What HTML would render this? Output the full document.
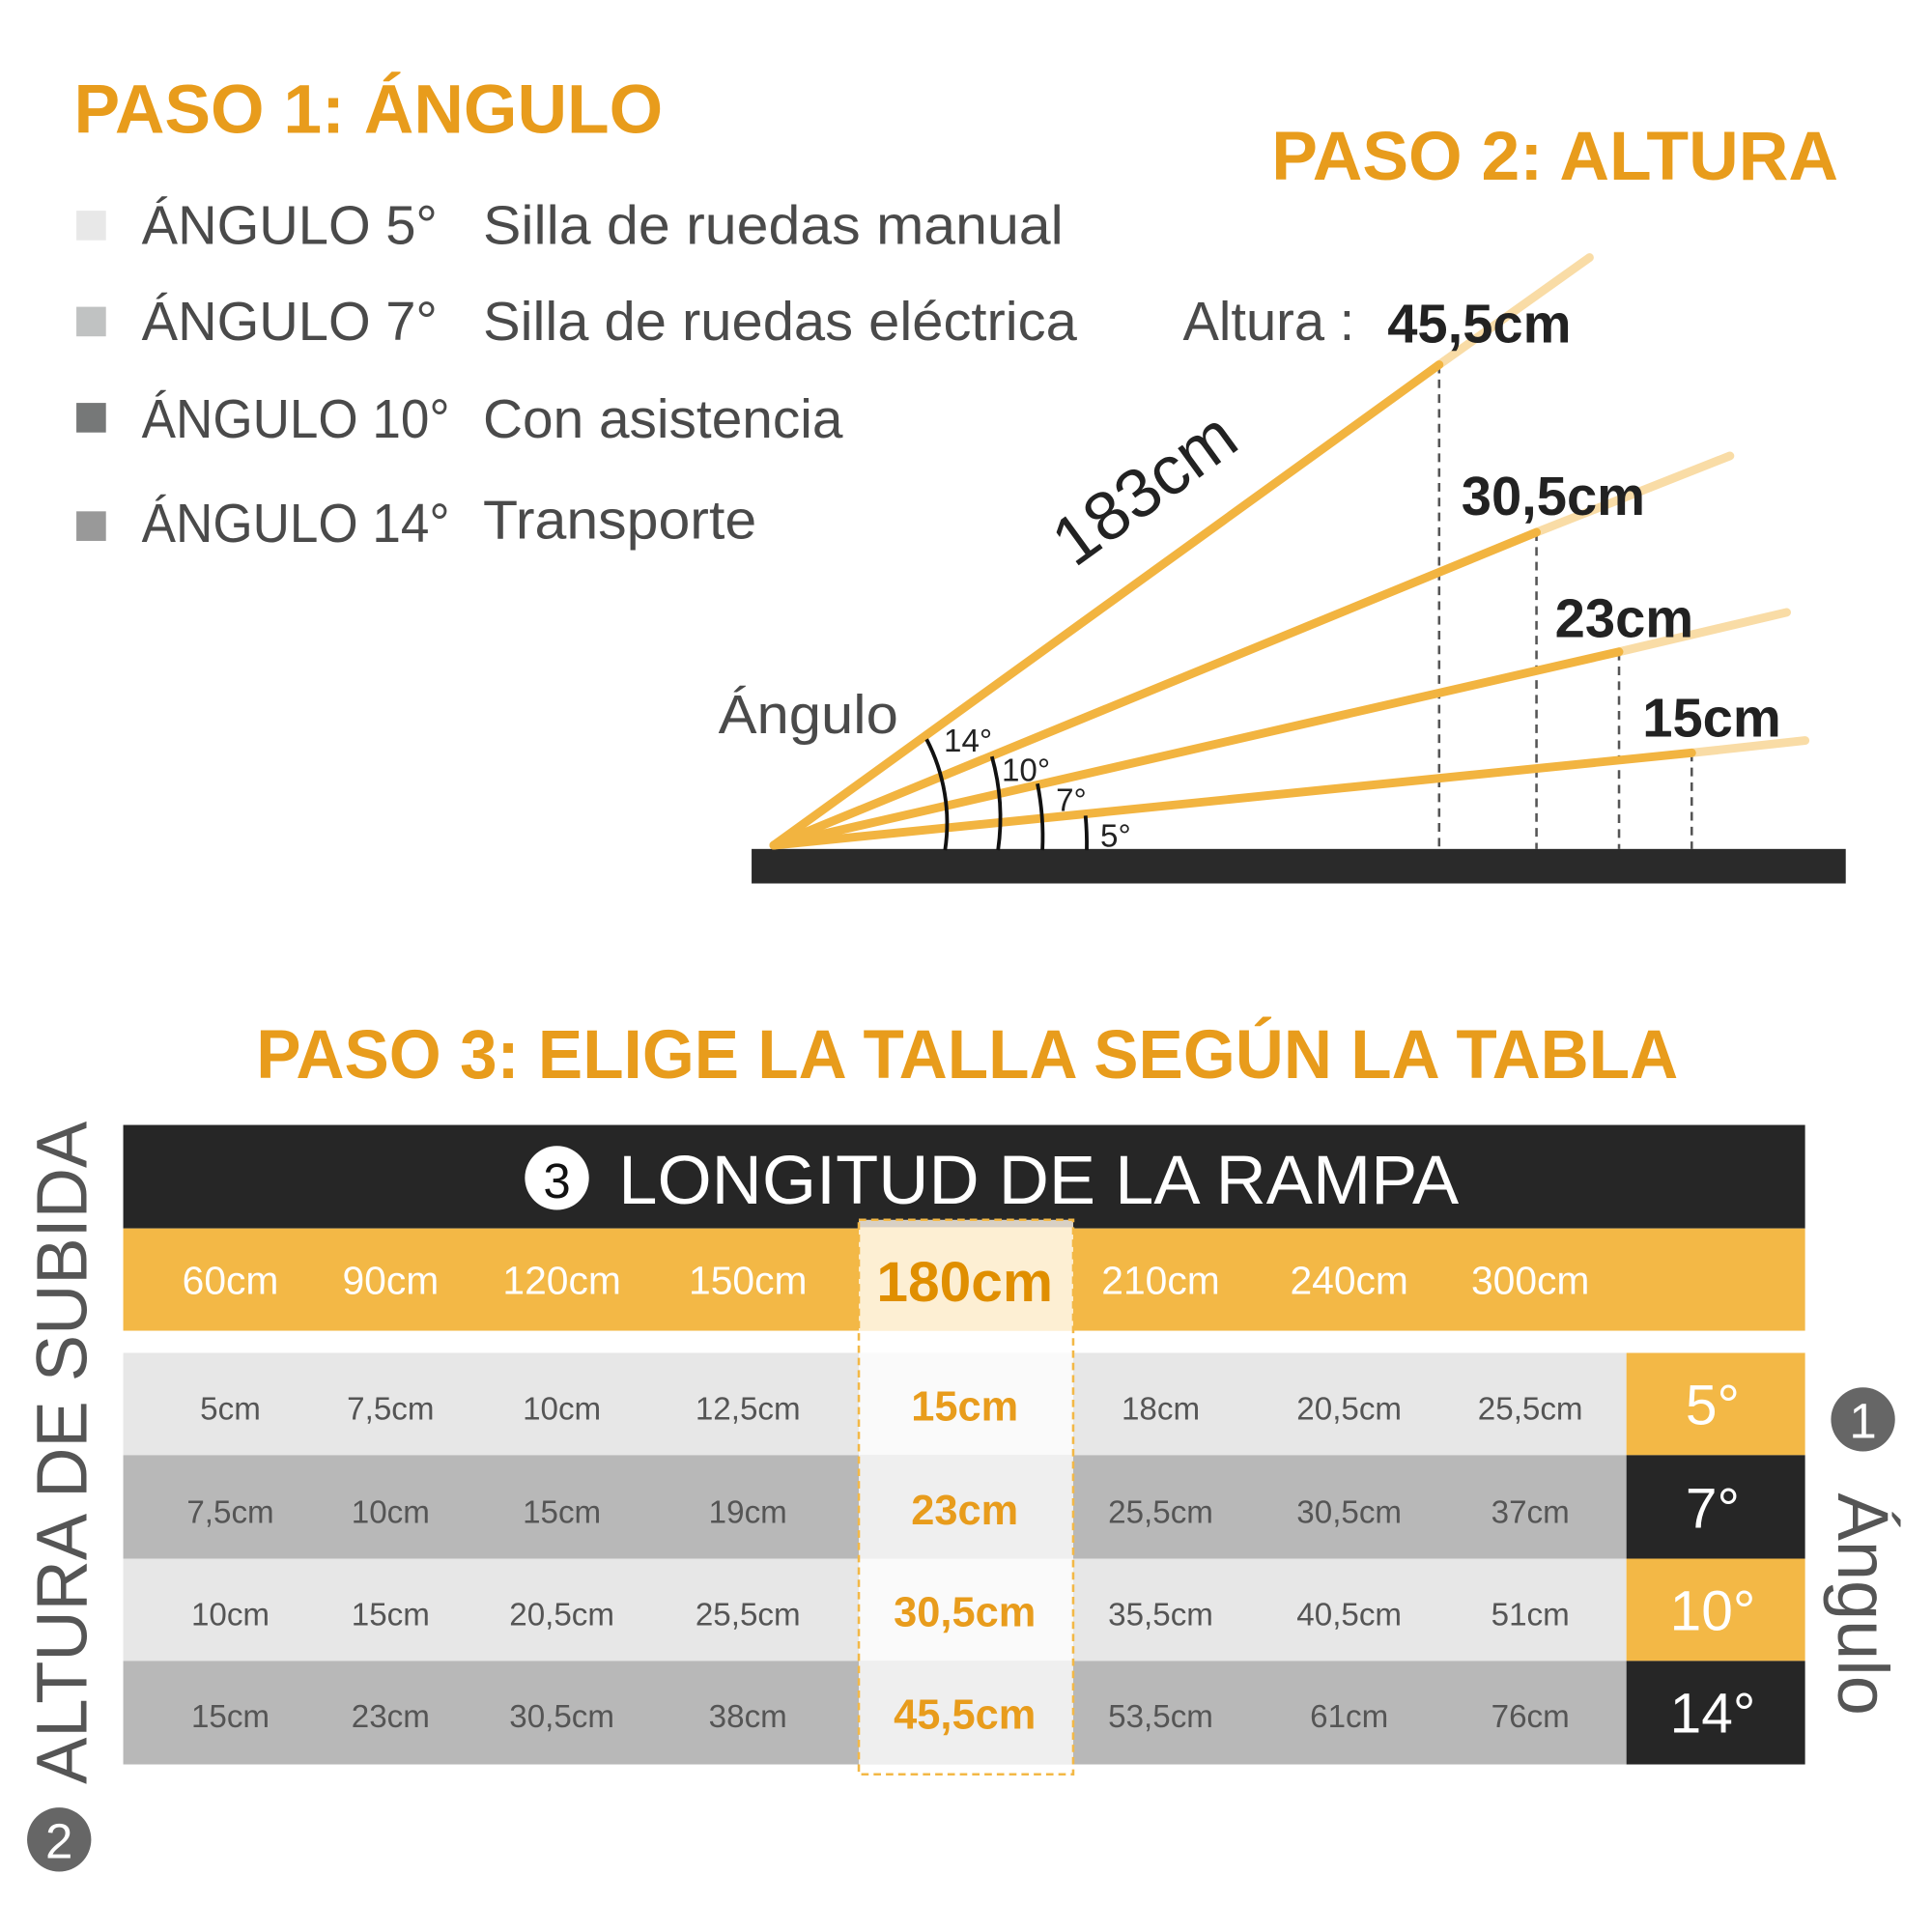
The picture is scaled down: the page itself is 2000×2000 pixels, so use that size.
<!DOCTYPE html>
<html><head><meta charset="utf-8"><style>html,body{margin:0;padding:0;background:#fff}svg{display:block}</style></head>
<body>
<svg width="2000" height="2000" viewBox="0 0 1568 1568" xmlns="http://www.w3.org/2000/svg" font-family="'Liberation Sans', 'DejaVu Sans', sans-serif">
<rect width="1568" height="1568" fill="#fff"/>
<g fill="#e89c1c" font-weight="bold" font-size="56">
<text x="60" y="108" textLength="478" lengthAdjust="spacingAndGlyphs">PASO 1: ÁNGULO</text>
<text x="1032" y="146" textLength="460" lengthAdjust="spacingAndGlyphs">PASO 2: ALTURA</text>
<text x="208" y="875" textLength="1154" lengthAdjust="spacingAndGlyphs">PASO 3: ELIGE LA TALLA SEGÚN LA TABLA</text>
</g>
<rect x="62" y="171" width="24" height="24" fill="#e8e8e8"/>
<rect x="62" y="249" width="24" height="24" fill="#c0c2c2"/>
<rect x="62" y="327" width="24" height="24" fill="#767878"/>
<rect x="62" y="415" width="24" height="24" fill="#999"/>
<g fill="#4a4a4a" font-size="44">
<text x="115" y="198">ÁNGULO 5°</text><text x="392" y="198" textLength="471" lengthAdjust="spacingAndGlyphs">Silla de ruedas manual</text>
<text x="115" y="276">ÁNGULO 7°</text><text x="392" y="276" textLength="482" lengthAdjust="spacingAndGlyphs">Silla de ruedas eléctrica</text>
<text x="115" y="355" textLength="250" lengthAdjust="spacingAndGlyphs">ÁNGULO 10°</text><text x="392" y="355" textLength="292" lengthAdjust="spacingAndGlyphs">Con asistencia</text>
<text x="115" y="440" textLength="250" lengthAdjust="spacingAndGlyphs">ÁNGULO 14°</text><text x="392" y="437" textLength="222" lengthAdjust="spacingAndGlyphs">Transporte</text>
<text x="960" y="276">Altura :</text>
<text x="583" y="595" textLength="146" lengthAdjust="spacingAndGlyphs">Ángulo</text>
</g>
<rect x="610" y="689" width="888" height="28" fill="#2a2a2a"/>
<g stroke="#555" stroke-width="2" stroke-dasharray="7,5">
<line x1="1168" y1="296" x2="1168" y2="689"/><line x1="1247" y1="432" x2="1247" y2="689"/>
<line x1="1314" y1="529" x2="1314" y2="689"/><line x1="1373" y1="611" x2="1373" y2="689"/>
</g>
<g stroke="#f9dca6" stroke-width="7" stroke-linecap="round">
<line x1="1168" y1="296" x2="1290" y2="209"/><line x1="1247" y1="432" x2="1404" y2="370"/>
<line x1="1314" y1="529" x2="1450" y2="497"/><line x1="1373" y1="611" x2="1465" y2="601"/>
</g>
<g stroke="#f2b440" stroke-width="7" stroke-linecap="round">
<line x1="628" y1="686" x2="1168" y2="296"/><line x1="628" y1="686" x2="1247" y2="432"/>
<line x1="628" y1="686" x2="1314" y2="529"/><line x1="628" y1="686" x2="1373" y2="611"/>
</g>
<g stroke="#111" stroke-width="3" fill="none">
<path d="M752 600 A147 147 0 0 1 767 690"/>
<path d="M805 614 A184 184 0 0 1 810 690"/>
<path d="M842 636 A219 219 0 0 1 846 690"/>
<path d="M881 662 A255 255 0 0 1 882 690"/>
</g>
<g fill="#222" font-size="26">
<text x="766" y="610">14°</text><text x="813" y="634">10°</text><text x="857" y="658">7°</text><text x="893" y="687">5°</text>
</g>
<g fill="#222" font-weight="bold" font-size="44">
<text x="1126" y="278">45,5cm</text><text x="1186" y="418">30,5cm</text>
<text x="1262" y="517">23cm</text><text x="1333" y="598">15cm</text>
</g>
<text x="940" y="412" transform="rotate(-36 940 412)" text-anchor="middle" fill="#222" font-size="56">183cm</text>

<rect x="100" y="913" width="1365" height="84" fill="#262626"/>
<circle cx="452" cy="956" r="26" fill="#fff"/>
<text x="452" y="972" text-anchor="middle" font-size="40" fill="#111">3</text>
<text x="502" y="977" fill="#fff" font-size="56" textLength="682" lengthAdjust="spacingAndGlyphs">LONGITUD DE LA RAMPA</text>
<rect x="100" y="997" width="1365" height="83" fill="#f3b846"/>
<rect x="697" y="992" width="174" height="88" fill="#fdefd3"/>
<rect x="697" y="990" width="174" height="6" fill="#d8d0c4"/>
<g fill="#fff" font-size="32" text-anchor="middle">
<text x="187" y="1050">60cm</text><text x="317" y="1050">90cm</text><text x="456" y="1050">120cm</text><text x="607" y="1050">150cm</text>
<text x="942" y="1050">210cm</text><text x="1095" y="1050">240cm</text><text x="1242" y="1050">300cm</text>
</g>
<text x="783" y="1056" text-anchor="middle" font-size="46" font-weight="bold" fill="#e08f00">180cm</text>
<rect x="100" y="1098" width="1220" height="83" fill="#e7e7e7"/>
<rect x="100" y="1181" width="1220" height="84" fill="#b8b8b8"/>
<rect x="100" y="1265" width="1220" height="83" fill="#e7e7e7"/>
<rect x="100" y="1348" width="1220" height="84" fill="#b8b8b8"/>
<rect x="697" y="1098" width="174" height="83" fill="#fafafa"/>
<rect x="697" y="1181" width="174" height="84" fill="#efefef"/>
<rect x="697" y="1265" width="174" height="83" fill="#fafafa"/>
<rect x="697" y="1348" width="174" height="84" fill="#efefef"/>
<rect x="1320" y="1098" width="145" height="83" fill="#f3b846"/>
<rect x="1320" y="1181" width="145" height="84" fill="#262626"/>
<rect x="1320" y="1265" width="145" height="83" fill="#f3b846"/>
<rect x="1320" y="1348" width="145" height="84" fill="#262626"/>
<rect x="697" y="990" width="174" height="450" fill="none" stroke="#f3b846" stroke-width="2" stroke-dasharray="6,4"/>
<g fill="#555" font-size="26" text-anchor="middle">
<text x="187" y="1152">5cm</text><text x="317" y="1152">7,5cm</text><text x="456" y="1152">10cm</text><text x="607" y="1152">12,5cm</text><text x="942" y="1152">18cm</text><text x="1095" y="1152">20,5cm</text><text x="1242" y="1152">25,5cm</text>
<text x="187" y="1236">7,5cm</text><text x="317" y="1236">10cm</text><text x="456" y="1236">15cm</text><text x="607" y="1236">19cm</text><text x="942" y="1236">25,5cm</text><text x="1095" y="1236">30,5cm</text><text x="1242" y="1236">37cm</text>
<text x="187" y="1319">10cm</text><text x="317" y="1319">15cm</text><text x="456" y="1319">20,5cm</text><text x="607" y="1319">25,5cm</text><text x="942" y="1319">35,5cm</text><text x="1095" y="1319">40,5cm</text><text x="1242" y="1319">51cm</text>
<text x="187" y="1402">15cm</text><text x="317" y="1402">23cm</text><text x="456" y="1402">30,5cm</text><text x="607" y="1402">38cm</text><text x="942" y="1402">53,5cm</text><text x="1095" y="1402">61cm</text><text x="1242" y="1402">76cm</text>
</g>
<g fill="#e89c1c" font-size="34" font-weight="bold" text-anchor="middle">
<text x="783" y="1153">15cm</text><text x="783" y="1237">23cm</text><text x="783" y="1320">30,5cm</text><text x="783" y="1403">45,5cm</text>
</g>
<g fill="#fff" font-size="46" text-anchor="middle">
<text x="1390" y="1156">5°</text><text x="1390" y="1240">7°</text><text x="1390" y="1323">10°</text><text x="1390" y="1406">14°</text>
</g>
<text x="70" y="1179" transform="rotate(-90 70 1179)" text-anchor="middle" fill="#555" font-size="58" textLength="538" lengthAdjust="spacingAndGlyphs">ALTURA DE SUBIDA</text>
<circle cx="48" cy="1493" r="26" fill="#666"/>
<text x="48" y="1508" text-anchor="middle" fill="#fff" font-size="40">2</text>
<circle cx="1512" cy="1152" r="26" fill="#666"/>
<text x="1512" y="1167" text-anchor="middle" fill="#fff" font-size="40">1</text>
<text x="1492" y="1302" transform="rotate(90 1492 1302)" text-anchor="middle" fill="#555" font-size="58">Ángulo</text>
</svg>
</body></html>
